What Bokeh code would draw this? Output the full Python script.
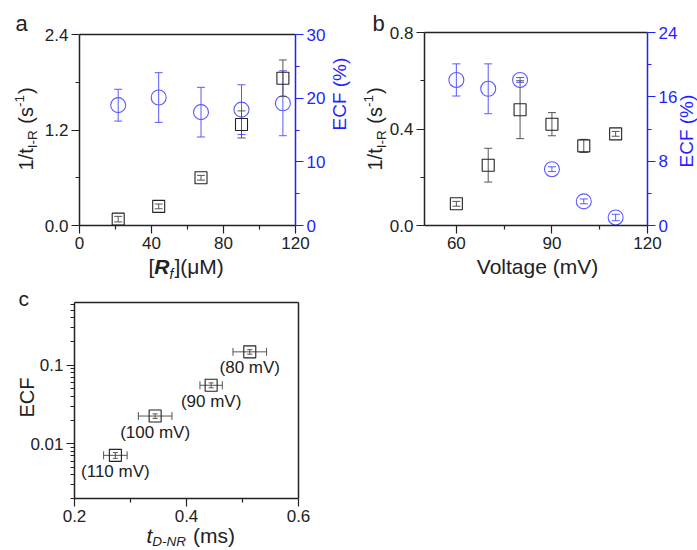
import math
from bokeh.plotting import figure
from bokeh.models import Range1d, LinearAxis, FixedTicker, Label, CustomJSTickFormatter, PrintfTickFormatter
from bokeh.layouts import column, row
from bokeh.embed import file_html
from bokeh.resources import INLINE
from bokeh.core.properties import value

# ---------------- data ----------------
# panel a
a_conc = [21.5, 44, 67.5, 90, 113]
a_rate = [0.08, 0.24, 0.60, 1.27, 1.85]
a_rate_err = [0.035, 0.03, 0.03, 0.17, 0.23]
a_ecf = [18.9, 20.1, 17.8, 18.2, 19.2]
a_ecf_err = [2.5, 3.9, 3.9, 3.9, 5.1]

# panel b
b_volt = [60, 70, 80, 90, 100, 110]
b_rate = [0.09, 0.25, 0.48, 0.42, 0.33, 0.38]
b_rate_err = [0.01, 0.07, 0.12, 0.048, 0.027, 0.01]
b_ecf = [18.1, 17.0, 18.1, 7.0, 3.0, 1.0]
b_ecf_err = [2.0, 3.1, 0.3, 0.3, 0.3, 0.4]

# panel c
c_t = [0.513, 0.444, 0.344, 0.273]
c_t_err = [0.030, 0.020, 0.030, 0.021]
c_ecf = [0.148, 0.0555, 0.0225, 0.0071]
c_ecf_err = [0.010, 0.004, 0.0015, 0.0006]
c_labels = ["(80 mV)", "(90 mV)", "(100 mV)", "(110 mV)"]

# axis limits and tick values
a_xlim, a_ylim, a_rlim = (0, 120), (0, 2.4), (0, 30)
b_xlim, b_ylim, b_rlim = (50, 120), (0, 0.8), (0, 24)
c_xlim, c_ylim = (0.2, 0.6), (0.002, 0.63)
a_xticks, a_xminor = [0, 40, 80, 120], [20, 60, 100]
a_yticks, a_yminor = [0, 1.2, 2.4], [0.6, 1.8]
a_rticks, a_rminor = [0, 10, 20, 30], [5, 15, 25]
b_xticks, b_xminor = [60, 90, 120], [75, 105]
b_yticks, b_yminor = [0, 0.4, 0.8], [0.2, 0.6]
b_rticks, b_rminor = [0, 8, 16, 24], [4, 12, 20]
c_xticks, c_xminor = [0.2, 0.4, 0.6], [0.3, 0.5]
c_yticks = [0.01, 0.1]
c_yminor = [0.002, 0.003, 0.004, 0.005, 0.006, 0.007, 0.008, 0.009,
            0.02, 0.03, 0.04, 0.05, 0.06, 0.07, 0.08, 0.09,
            0.2, 0.3, 0.4, 0.5, 0.6]

FONT = "Liberation Sans"
BLUE_AX = "#1f1fff"
BLUE_PT = "#5a5aff"
BLACK = "#222222"
GRAY = "#555555"
BASE_FIX = 0.34  # baseline correction (fraction of font size)

# Arial-metric widths (em)
W = {'1': .556, '/': .278, 't': .278, 'I': .278, '-': .333, 'R': .722, ' ': .278,
     '(': .333, 's': .5, ')': .333, '[': .278, ']': .278, 'μ': .576, 'M': .833,
     'f': .278, 'D': .722, 'N': .722, 'm': .833}


def twidth(text, size, style):
    w = 0
    for ch in text:
        cw = W.get(ch, .556)
        if "bold" in style and ch == 'f':
            cw = .333
        w += cw
    return w * size


def label(p, text, x, y, size, color=BLACK, rotated=False, align="left", style="normal"):
    d = BASE_FIX * size
    if rotated:
        x -= d
    else:
        y += d
    p.add_layout(Label(x=x, y=y, x_units="screen", y_units="screen", text=text,
                       angle=math.pi / 2 if rotated else 0, text_align=align,
                       text_baseline="alphabetic", text_font_style=style,
                       text_font=FONT, text_font_size=f"{size}px", text_color=color))


def rich(p, pieces, x0, y0, rotated=False, color=BLACK):
    """Place text pieces one after another (sub/superscripts via baseline shift)."""
    pos = 0.0
    for text, size, style, shift in pieces:
        stripped = text.lstrip(" ")
        pos += twidth(text[:len(text) - len(stripped)], size, style)
        if rotated:
            label(p, stripped, x0 + shift, y0 + pos, size, color, True, style=style)
        else:
            label(p, stripped, x0 + pos, y0 - shift, size, color, False, style=style)
        pos += twidth(stripped, size, style) + (1 if shift else 0)


def style_axis(ax, color=BLACK, labels=True):
    ax.axis_line_color = color
    ax.axis_line_width = 1.5
    ax.major_tick_line_color = color
    ax.minor_tick_line_color = color
    ax.major_tick_line_width = 1.2
    ax.minor_tick_line_width = 1.2
    ax.major_tick_out = 8
    ax.major_tick_in = 0
    ax.minor_tick_out = 4
    ax.minor_tick_in = 0
    ax.major_label_text_color = color
    ax.major_label_text_font = FONT
    ax.major_label_text_font_size = "17px"
    ax.major_label_standoff = 3
    ax.axis_label = None
    if not labels:
        ax.ticker = FixedTicker(ticks=[])
        ax.major_tick_out = 0
        ax.minor_tick_out = 0
        ax.major_label_text_color = None


def ext(lim, p0, p1, total, log=False):
    """Extend an axis range so that lim maps onto canvas pixels p0..p1 of a canvas of size total."""
    lo, hi = lim
    if log:
        lo, hi = math.log10(lo), math.log10(hi)
    k = (hi - lo) / (p1 - p0)
    a, b = lo - p0 * k, hi + (total - p1) * k
    if log:
        a, b = 10 ** a, 10 ** b
    return a, b


def errbars_y(p, x, y, e, color, cap=8, **kw):
    lo = [v - d for v, d in zip(y, e)]
    hi = [v + d for v, d in zip(y, e)]
    p.segment(x0=x, y0=lo, x1=x, y1=hi, line_color=color, line_width=1, **kw)
    p.scatter(x=x + x, y=lo + hi, marker="dash", size=cap, line_color=color, line_width=1, **kw)


def errbars_x(p, x, y, e, color, cap=8):
    lo = [v - d for v, d in zip(x, e)]
    hi = [v + d for v, d in zip(x, e)]
    p.segment(x0=lo, y0=y, x1=hi, y1=y, line_color=color, line_width=1)
    p.scatter(x=lo + hi, y=y + y, marker="dash", angle=math.pi / 2, size=cap,
              line_color=color, line_width=1)


def panel(w, h, xlim, ylim, box, rlim=None, ylog=False):
    """box = (left, right, bottom, top): pixel position of the plot box in the canvas
    (x from the left, y from the bottom)."""
    l, r, b, t = box
    xr = ext(xlim, l, r, w)
    yr = ext(ylim, b, t, h, log=ylog)
    p = figure(width=w, height=h, x_range=Range1d(*xr), y_range=Range1d(*yr),
               output_backend="svg", toolbar_location=None, min_border=0,
               y_axis_type="log" if ylog else "linear")
    p.grid.visible = False
    p.outline_line_color = None
    p.background_fill_color = "white"
    p.border_fill_color = "white"
    xa, ya = p.below[0], p.left[0]
    style_axis(xa)
    style_axis(ya)
    xa.fixed_location = ylim[0]
    xa.bounds = xlim
    ya.fixed_location = xlim[0]
    ya.bounds = ylim
    top = LinearAxis(fixed_location=ylim[1], bounds=xlim)
    style_axis(top, labels=False)
    p.add_layout(top, "above")
    if rlim is not None:
        p.extra_y_ranges = {"ecf": Range1d(*ext(rlim, b, t, h))}
        ra = LinearAxis(y_range_name="ecf", fixed_location=xlim[1], bounds=rlim)
        style_axis(ra, BLUE_AX)
    else:
        ra = LinearAxis(fixed_location=xlim[1], bounds=ylim)
        style_axis(ra, labels=False)
    p.add_layout(ra, "right")
    return p, xa, ya, ra


# ---------------- panel a ----------------
pa, xa, ya, ra = panel(358, 284, a_xlim, a_ylim, (79, 295, 59, 250), rlim=a_rlim)
xa.ticker = FixedTicker(ticks=a_xticks, minor_ticks=a_xminor)
ya.ticker = FixedTicker(ticks=a_yticks, minor_ticks=a_yminor)
ya.formatter = PrintfTickFormatter(format="%.1f")
ra.ticker = FixedTicker(ticks=a_rticks, minor_ticks=a_rminor)

errbars_y(pa, a_conc, a_ecf, a_ecf_err, BLUE_PT, y_range_name="ecf")
pa.scatter(a_conc, a_ecf, marker="circle", size=15, fill_color=None,
           line_color=BLUE_PT, line_width=1.1, y_range_name="ecf")
errbars_y(pa, a_conc, a_rate, a_rate_err, GRAY)
pa.scatter(a_conc, a_rate, marker="square", size=12, fill_color=None,
           line_color=BLACK, line_width=1.1)

label(pa, "a", 15, 254, 22)
rich(pa, [("1/t", 20, "normal", 0), ("I-R", 13.5, "normal", 5), (" (s", 20, "normal", 0),
          ("-1", 13.5, "normal", -8), (")", 20, "normal", 0)], 32, 114, rotated=True)
rich(pa, [("[", 21, "normal", 0), ("R", 21, "bold italic", 0), ("f", 14, "italic", 5),
          ("](μM)", 21, "normal", 0)], 148, 11)
label(pa, "ECF (%)", 345, 154, 19, color=BLUE_AX, rotated=True)

# ---------------- panel b ----------------
pb, xb, yb, rb = panel(339, 284, b_xlim, b_ylim, (66, 289, 59, 252), rlim=b_rlim)
xb.ticker = FixedTicker(ticks=b_xticks, minor_ticks=b_xminor)
yb.ticker = FixedTicker(ticks=b_yticks, minor_ticks=b_yminor)
yb.formatter = PrintfTickFormatter(format="%.1f")
rb.ticker = FixedTicker(ticks=b_rticks, minor_ticks=b_rminor)

errbars_y(pb, b_volt, b_ecf, b_ecf_err, BLUE_PT, y_range_name="ecf")
pb.scatter(b_volt, b_ecf, marker="circle", size=15, fill_color=None,
           line_color=BLUE_PT, line_width=1.1, y_range_name="ecf")
errbars_y(pb, b_volt, b_rate, b_rate_err, GRAY)
pb.scatter(b_volt, b_rate, marker="square", size=12, fill_color=None,
           line_color=BLACK, line_width=1.1)

label(pb, "b", 14, 254, 22)
rich(pb, [("1/t", 20, "normal", 0), ("I-R", 13.5, "normal", 5), (" (s", 20, "normal", 0),
          ("-1", 13.5, "normal", -8), (")", 20, "normal", 0)], 23, 114, rotated=True)
label(pb, "Voltage (mV)", 179, 11, 21, align="center")
label(pb, "ECF (%)", 334, 117, 19, color=BLUE_AX, rotated=True)

# ---------------- panel c ----------------
pc, xc, yc, _ = panel(340, 266, c_xlim, c_ylim, (74, 298, 52, 248), ylog=True)
xc.ticker = FixedTicker(ticks=c_xticks, minor_ticks=c_xminor)
xc.formatter = PrintfTickFormatter(format="%.1f")
yc.ticker = FixedTicker(ticks=c_yticks, minor_ticks=c_yminor)
yc.formatter = CustomJSTickFormatter(code="return tick.toString();")

errbars_x(pc, c_t, c_ecf, c_t_err, GRAY)
errbars_y(pc, c_t, c_ecf, c_ecf_err, GRAY, cap=5)
pc.scatter(c_t, c_ecf, marker="square", size=12, fill_color=None,
           line_color=BLACK, line_width=1.1)
pc.text(x=c_t, y=c_ecf, text=c_labels, text_font=value(FONT), text_font_size="17px",
        text_align="center", text_baseline="middle", y_offset=16, text_color=BLACK)

label(pc, "c", 18, 245, 21)
label(pc, "ECF", 33, 133, 20, rotated=True)
rich(pc, [("t", 21, "italic", 0), ("D-NR", 13.5, "italic", 4), (" (ms)", 21, "normal", 0)],
     146, 8)

layout = column(row(pa, pb, spacing=0), pc, spacing=0)
open("out.html", "w").write(file_html(layout, INLINE))
